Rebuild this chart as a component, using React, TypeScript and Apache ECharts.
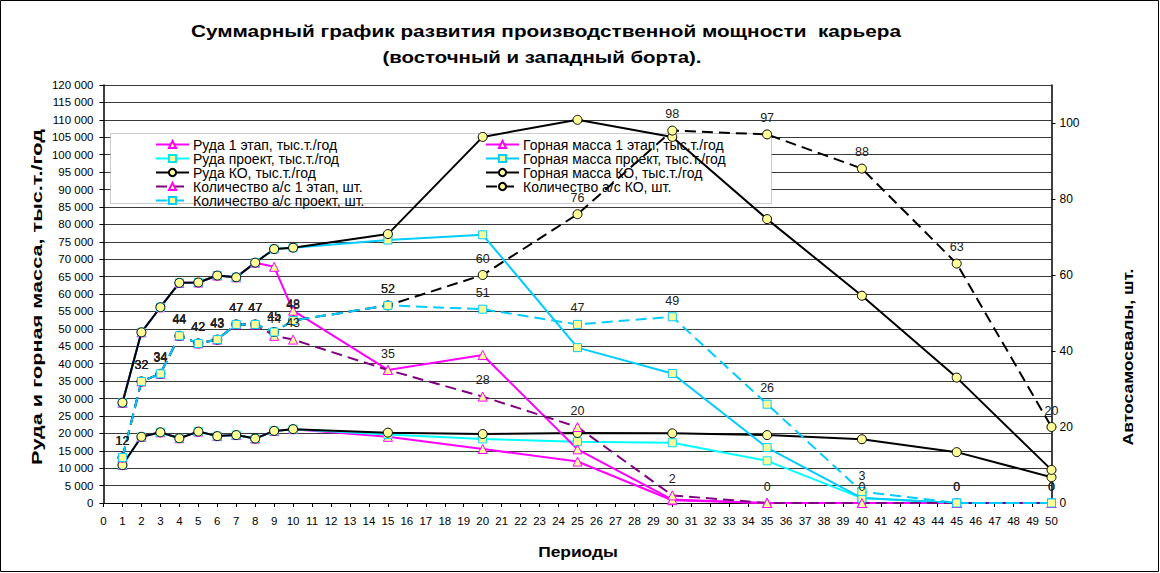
import React, { useEffect, useRef } from "react";
import * as echarts from "echarts";

const periods = [1, 2, 3, 4, 5, 6, 7, 8, 9, 10, 15, 20, 25, 30, 35, 40, 45, 50];

const ruda1 = [10900, 19000, 20300, 18600, 20500, 19200, 19500, 18500, 20700, 21200, 19000, 15500, 11900, 800, 0, 0, 0, 0];
const rudaProj = [10900, 19000, 20300, 18600, 20500, 19200, 19500, 18500, 20700, 21200, 19700, 18400, 17600, 17300, 12100, 1400, 0, 0];
const rudaKO = [10900, 19000, 20300, 18600, 20500, 19200, 19500, 18500, 20700, 21200, 20200, 19800, 20100, 20000, 19500, 18300, 14600, 7400];
const gm1 = [28800, 49000, 56200, 63200, 63300, 65300, 64800, 69000, 67800, 55200, 38200, 42500, 15400, 1000, 0, 0, 0, 0];
const gmProj = [28800, 49000, 56200, 63200, 63300, 65300, 64800, 69000, 72900, 73300, 75500, 77000, 44600, 37200, 15900, 1400, 0, 0];
const gmKO = [28800, 49000, 56200, 63200, 63300, 65300, 64800, 69000, 72900, 73300, 77200, 105100, 110000, 105100, 81500, 59500, 36000, 9500];

const cnt1 = [12, 32, 34, 44, 42, 43, 47, 47, 44, 43, 35, 28, 20, 2, 0, 0, 0, 0];
const cntProj = [12, 32, 34, 44, 42, 43, 47, 47, 45, 48, 52, 51, 47, 49, 26, 3, 0, 0];
const cntKO = [12, 32, 34, 44, 42, 43, 47, 47, 45, 48, 52, 60, 76, 98, 97, 88, 63, 20];

const N_RUDA1 = "Руда 1 этап, тыс.т./год";
const N_RUDAP = "Руда проект, тыс.т./год";
const N_RUDAK = "Руда КО, тыс.т./год";
const N_CNT1 = "Количество а/с 1 этап, шт.";
const N_CNTP = "Количество а/с проект, шт.";
const N_GM1 = "Горная масса 1 этап, тыс.т./год";
const N_GMP = "Горная масса проект, тыс.т./год";
const N_GMK = "Горная масса КО, тыс.т./год";
const N_CNTK = "Количество а/с КО, шт.";

const TITLE1 = "Суммарный график развития производственной мощности  карьера";
const TITLE2 = "(восточный и западный борта).";
const Y_LEFT_NAME = "Руда и горная масса, тыс.т./год";
const Y_RIGHT_NAME = "Автосамосвалы, шт.";
const X_NAME = "Периоды";

const FONT = "'Liberation Sans', Arial, sans-serif";
const FILL = "#FFFF99";

function mk(
  name: string,
  arr: number[],
  color: string,
  symbol: string,
  border: string,
  yAxisIndex: number,
  dashed: boolean,
  label: boolean,
  size: number
) {
  return {
    type: "line",
    name,
    yAxisIndex,
    data: periods.map((p, i) => [p, arr[i]]),
    symbol,
    symbolSize: size,
    showAllSymbol: true,
    lineStyle: { color, width: 2, type: dashed ? [11, 6] : "solid" },
    itemStyle: { color: FILL, borderColor: border, borderWidth: 1 },
    label: {
      show: label,
      position: "top",
      distance: 5,
      color: "#222",
      fontSize: 12.5,
      fontFamily: FONT,
    },
    emphasis: { disabled: true },
  };
}

const fmt = (v: number) => String(v).replace(/\B(?=(\d{3})+(?!\d))/g, " ");

function txt(text: string, x: number, y: number, size: number, sx: number, rot: number) {
  return {
    type: "text",
    x,
    y,
    rotation: rot,
    scaleX: sx,
    silent: true,
    style: {
      text,
      align: "center",
      verticalAlign: "middle",
      fontSize: size,
      fontWeight: "bold",
      fontFamily: FONT,
      fill: "#000",
    },
  };
}

export default function App() {
  const ref = useRef<HTMLDivElement>(null);
  useEffect(() => {
    document.body.style.margin = "0";
    const chart = echarts.init(ref.current!, null, { renderer: "svg" });
    const legendCommon = {
      orient: "vertical",
      top: 137.5,
      itemGap: 0,
      itemWidth: 33,
      itemHeight: 9,
      padding: 0,
      textStyle: { fontSize: 14, fontFamily: FONT, color: "#000", lineHeight: 13.5, padding: [0, 0, 0, -1] },
    };
    chart.setOption({
      animation: false,
      backgroundColor: "#fff",
      textStyle: { fontFamily: FONT },
      legend: [
        { ...legendCommon, left: 155, data: [N_RUDA1, N_RUDAP, N_RUDAK, N_CNT1, N_CNTP] },
        { ...legendCommon, left: 485, data: [N_GM1, N_GMP, N_GMK, N_CNTK] },
      ],
      grid: { left: 103.5, right: 108.5, top: 85, bottom: 70, containLabel: false },
      xAxis: {
        type: "value",
        min: 0,
        max: 50,
        interval: 1,
        axisLine: { lineStyle: { color: "#000", width: 1 } },
        axisTick: { show: true, length: 4, lineStyle: { color: "#000" } },
        axisLabel: { fontSize: 11.5, color: "#000", margin: 12, fontFamily: FONT },
        splitLine: { show: false },
      },
      yAxis: [
        {
          type: "value",
          min: 0,
          max: 120000,
          interval: 5000,
          axisLine: { show: true, lineStyle: { color: "#000", width: 1.5 } },
          axisTick: { show: true, length: 4, lineStyle: { color: "#000" } },
          axisLabel: { fontSize: 11.5, color: "#000", margin: 10, fontFamily: FONT, formatter: fmt },
          splitLine: { show: true, lineStyle: { color: "#3a3a3a", width: 1 } },
        },
        {
          type: "value",
          min: 0,
          max: 110,
          interval: 20,
          position: "right",
          axisLine: { show: true, lineStyle: { color: "#000", width: 1.5 } },
          axisTick: { show: true, length: 4, lineStyle: { color: "#000" } },
          axisLabel: { fontSize: 12, color: "#000", margin: 8, fontFamily: FONT, showMaxLabel: false },
          splitLine: { show: false },
        },
      ],
      graphic: [
        {
          type: "rect",
          z: 1,
          shape: { x: 0.5, y: 0.5, width: 1158, height: 571 },
          style: { fill: "none", stroke: "#000", lineWidth: 1 },
          silent: true,
        },
        {
          type: "rect",
          z: 1,
          shape: { x: 110.5, y: 133.5, width: 661, height: 70 },
          style: { fill: "#fff", stroke: "#999", lineWidth: 1, lineDash: [1, 1] },
          silent: true,
        },
        txt(TITLE1, 546, 31, 17, 1.22, 0),
        txt(TITLE2, 542, 57, 17, 1.2, 0),
        txt(Y_LEFT_NAME, 37, 297, 15.5, 1.4, Math.PI / 2),
        txt(Y_RIGHT_NAME, 1128, 357, 14, 1.25, Math.PI / 2),
        txt(X_NAME, 578, 552, 14.5, 1.2, 0),
      ],
      series: [
        mk(N_RUDA1, ruda1, "#FF00FF", "triangle", "#FF00FF", 0, false, false, 9),
        mk(N_RUDAP, rudaProj, "#00FFFF", "rect", "#00E5EE", 0, false, false, 8),
        mk(N_RUDAK, rudaKO, "#000000", "circle", "#000000", 0, false, false, 9),
        mk(N_GM1, gm1, "#FF00FF", "triangle", "#FF00FF", 0, false, false, 9),
        mk(N_GMP, gmProj, "#00CCFF", "rect", "#00CCFF", 0, false, false, 8),
        mk(N_GMK, gmKO, "#000000", "circle", "#000000", 0, false, false, 9),
        mk(N_CNT1, cnt1, "#800080", "triangle", "#FF00FF", 1, true, true, 9),
        mk(N_CNTK, cntKO, "#000000", "circle", "#000000", 1, true, true, 9),
        mk(N_CNTP, cntProj, "#00CCFF", "rect", "#00CCFF", 1, true, true, 8),
      ],
    });
    return () => chart.dispose();
  }, []);
  return <div ref={ref} style={{ width: 1160, height: 573 }} />;
}
